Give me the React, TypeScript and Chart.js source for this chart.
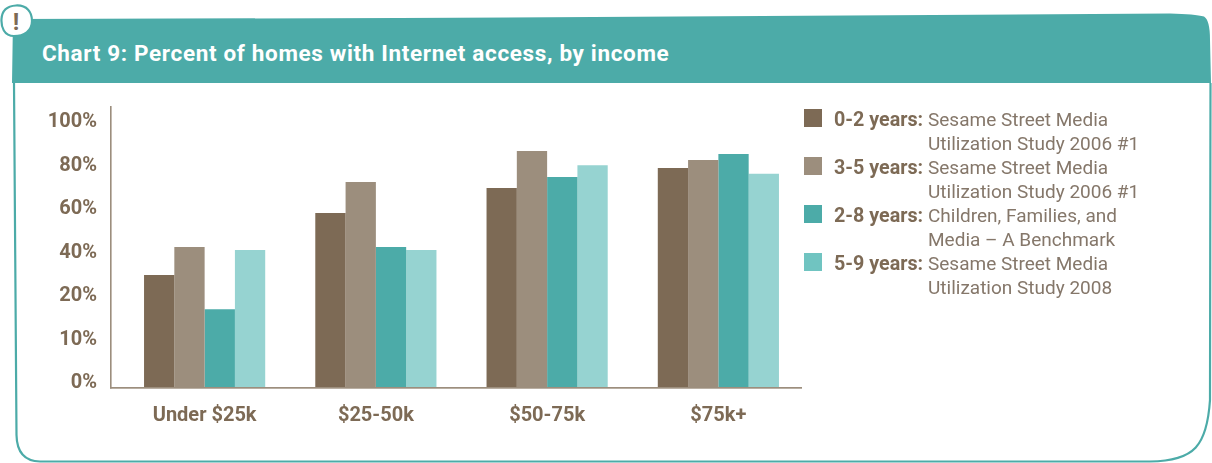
import React, { useEffect, useRef } from "react";
import { Chart, registerables, LinearScale } from "chart.js";

const categories = ["Under $25k", "$25-50k", "$50-75k", "$75k+"];
const ages0to2 = [31.5, 60, 71.5, 80.7];
const ages3to5 = [44.4, 74.3, 88.5, 84.4];
const ages2to8 = [17.9, 44.4, 76.6, 87.1];
const ages5to9 = [43, 43, 82, 78];
const yTickValues = [0, 10, 20, 40, 60, 80, 100];
const barColors = ["#7d6a55", "#9c8e7d", "#4cabA8", "#96d3d1"];
const legendColors = ["#7d6a55", "#9c8e7d", "#4cabA8", "#70c4c1"];
const legendAges = ["0-2 years:", "3-5 years:", "2-8 years:", "5-9 years:"];
const legendSources = [
  ["Sesame Street Media", "Utilization Study 2006 #1"],
  ["Sesame Street Media", "Utilization Study 2006 #1"],
  ["Children, Families, and", "Media \u2013 A Benchmark"],
  ["Sesame Street Media", "Utilization Study 2008"],
];
const title = "Chart 9: Percent of homes with Internet access, by income";

const seriesValues = [ages0to2, ages3to5, ages2to8, ages5to9];
const FONT = "Roboto, sans-serif";
const BROWN = "#7d6a55";
const TEAL = "#4cabA8";

// The printed axis has evenly spaced ticks at unevenly spaced values (0, 10, 20, 40 ...).
function toSlot(v: number) {
  const t = yTickValues;
  for (let i = 1; i < t.length; i++) {
    if (v <= t[i]) return i - 1 + (v - t[i - 1]) / (t[i] - t[i - 1]);
  }
  const n = t.length - 1;
  return n + (v - t[n]) / (t[n] - t[n - 1]);
}
class SlotScale extends LinearScale {
  static id = "slots";
  static defaults = LinearScale.defaults;
  getPixelForValue(v: number) {
    if (v === null || v === undefined) return NaN;
    return (this as any).getPixelForDecimal(toSlot(v) / toSlot((this as any).max));
  }
}
Chart.register(...registerables, SlotScale as any);

const axisLines = {
  id: "axisLines",
  afterDatasetsDraw(chart: any) {
    const { ctx, chartArea } = chart;
    ctx.save();
    ctx.fillStyle = "#9c8e7d";
    ctx.fillRect(110, chartArea.top, 1.6, chartArea.bottom - chartArea.top + 1.5);
    ctx.fillRect(110, chartArea.bottom, chartArea.right - 110 - 2, 1.7);
    ctx.restore();
  },
};

export default function App() {
  const ref = useRef<HTMLCanvasElement>(null);
  useEffect(() => {
    const chart = new Chart(ref.current as HTMLCanvasElement, {
      type: "bar",
      data: {
        labels: categories,
        datasets: seriesValues.map((data, i) => ({
          label: legendAges[i],
          data,
          backgroundColor: barColors[i],
          borderWidth: 0,
          categoryPercentage: 0.7076,
          barPercentage: 1,
        })),
      },
      plugins: [axisLines],
      options: {
        animation: false,
        responsive: false,
        layout: { padding: { top: 106, right: 408, bottom: 0, left: 0 } },
        plugins: { legend: { display: false }, title: { display: false }, tooltip: { enabled: false } },
        scales: {
          x: {
            grid: { display: false, drawTicks: false },
            border: { display: false },
            afterFit: (s: any) => { s.height = 76; },
            ticks: {
              color: BROWN,
              padding: 17,
              maxRotation: 0,
              font: { family: FONT, weight: "bold", size: 20 },
            },
          },
          y: {
            type: "slots",
            min: 0,
            max: 109.2,
            grid: { display: false, drawTicks: false },
            border: { display: false },
            afterFit: (s: any) => { s.width = 119; },
            afterBuildTicks: (s: any) => { s.ticks = yTickValues.map((value) => ({ value })); },
            ticks: {
              color: BROWN,
              padding: 22,
              labelOffset: -4,
              autoSkip: false,
              callback: (v: any) => `${v}%`,
              font: { family: FONT, weight: "bold", size: 20 },
            },
          },
        } as any,
      },
    } as any);
    return () => chart.destroy();
  }, []);

  return (
    <div style={{ position: "absolute", left: 0, top: 0, width: 1212, height: 463, overflow: "hidden", background: "#fff", fontFamily: FONT }}>
      <svg width={1212} height={463} style={{ position: "absolute", left: 0, top: 0 }}>
        <path
          d="M14 83 L16.5 435 Q17 461 40 461.5 L1150 461.5 C1195 461 1207 445 1210 400 L1210.5 83"
          fill="none"
          stroke={TEAL}
          strokeWidth={2.2}
        />
        <path d="M12 83 L13 19 L400 18 Q800 16 1170 13.5 Q1195 14 1204 16.5 Q1210 20 1210 40 L1211 83 Z" fill={TEAL} />
        <path
          d="M16 5.5 C27 5 32 12 32 21 C32 31 24 36 14 36 C4 36 1 27 1.5 19 C2 10 8 6 16 5.5 Z"
          fill="#fff"
          stroke={TEAL}
          strokeWidth={2.2}
        />
      </svg>
      <div style={{ position: "absolute", left: 11, top: 9, width: 10, textAlign: "center", color: BROWN, fontSize: 24, fontWeight: 700, lineHeight: "26px" }}>!</div>
      <div style={{ position: "absolute", left: 42, top: 39, color: "#fff", fontSize: 22.5, fontWeight: 700, lineHeight: "28px", whiteSpace: "nowrap", letterSpacing: "0.65px" }}>{title}</div>
      <canvas ref={ref} width={1212} height={463} style={{ position: "absolute", left: 0, top: 0, display: "block" }} />
      {legendAges.map((age, i) => (
        <React.Fragment key={age}>
          <div style={{ position: "absolute", left: 804, top: 109 + i * 48, width: 18, height: 18, background: legendColors[i] }} />
          <div style={{ position: "absolute", left: 834, top: 108 + i * 48, color: BROWN, fontSize: 19.7, fontWeight: 700, lineHeight: "24px", whiteSpace: "nowrap" }}>{age}</div>
          {legendSources[i].map((line, j) => (
            <div key={j} style={{ position: "absolute", left: 928, top: 108 + i * 48 + j * 24, color: "#85776a", fontSize: 19, fontWeight: 400, lineHeight: "24px", whiteSpace: "nowrap" }}>{line}</div>
          ))}
        </React.Fragment>
      ))}
    </div>
  );
}
